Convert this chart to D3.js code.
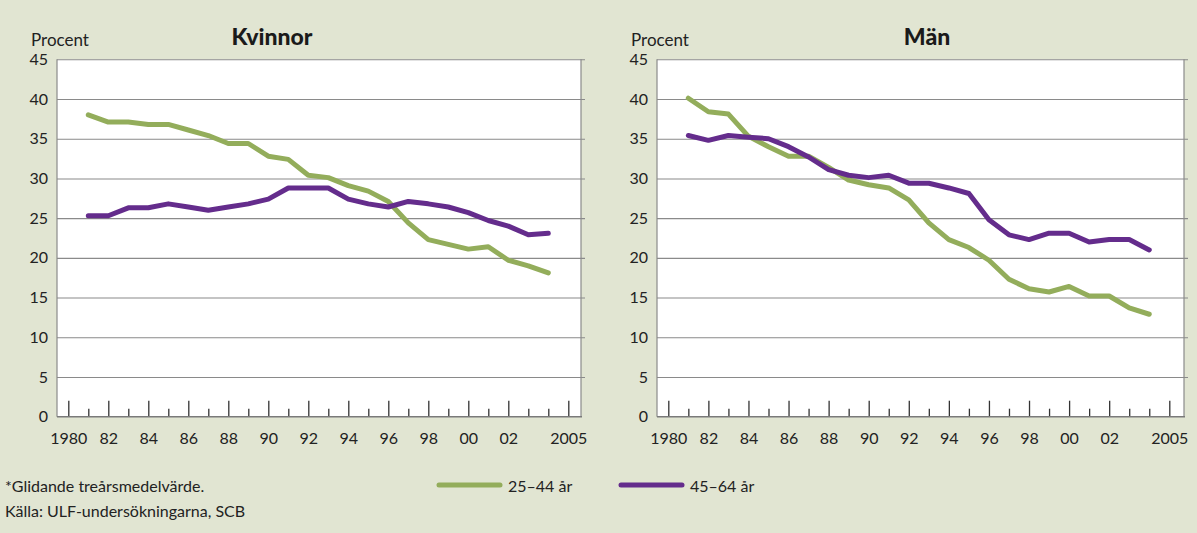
<!DOCTYPE html>
<html><head><meta charset="utf-8">
<script src="https://cdn.jsdelivr.net/npm/d3@7"></script>
<style>
html,body{margin:0;padding:0;background:#e1e5d2;}
svg{display:block;font-family:Lato,"Open Sans",sans-serif;}
</style></head>
<body><svg id="c" width="1197" height="533"></svg>
<script>
const years = d3.range(1981, 2005);
const kvinnor25_44 = [38.0,37.1,37.1,36.8,36.8,36.1,35.4,34.4,34.4,32.8,32.4,30.4,30.1,29.1,28.4,27.1,24.4,22.3,21.7,21.1,21.4,19.7,19.0,18.1];
const kvinnor45_64 = [25.3,25.3,26.3,26.3,26.8,26.4,26.0,26.4,26.8,27.4,28.8,28.8,28.8,27.4,26.8,26.4,27.1,26.8,26.4,25.7,24.7,24.0,22.9,23.1];
const man25_44 = [40.1,38.4,38.1,35.3,34.0,32.8,32.8,31.4,29.8,29.2,28.8,27.3,24.4,22.3,21.3,19.7,17.3,16.1,15.7,16.4,15.2,15.2,13.7,12.9];
const man45_64 = [35.4,34.8,35.4,35.2,35.0,34.0,32.7,31.1,30.4,30.1,30.4,29.4,29.4,28.8,28.1,24.8,22.9,22.3,23.1,23.1,22.0,22.3,22.3,21.0];
const yTicks = [0,5,10,15,20,25,30,35,40,45];
const xTickYears = d3.range(1980, 2006);
const xTickLabels = {1980:"1980",1982:"82",1984:"84",1986:"86",1988:"88",1990:"90",1992:"92",1994:"94",1996:"96",1998:"98",2000:"00",2002:"02",2005:"2005"};
const seriesNames = ["25–44 år","45–64 år"];
const colors = ["#93ad5b","#642c8c"];

const svg = d3.select("#c");
const panels = [
  {title:"Kvinnor", x0:57, x1:581, t1980:68.3, t2005:568.3, titleX:272, data:[kvinnor25_44,kvinnor45_64]},
  {title:"Män", x0:657, x1:1184, t1980:668.3, t2005:1169.3, titleX:927, data:[man25_44,man45_64]}
];
const yTop = 59.3, yBot = 416.7;
const y = d3.scaleLinear().domain([0,45]).range([yBot, yTop]);

panels.forEach(p => {
  const x = d3.scaleLinear().domain([1980,2005]).range([p.t1980, p.t2005]);
  const g = svg.append("g");
  g.append("rect").attr("x",p.x0).attr("y",yTop).attr("width",p.x1-p.x0).attr("height",yBot-yTop).attr("fill","#fff");
  const grid = g.append("g").attr("transform",`translate(${p.x0},0)`)
    .call(d3.axisRight(y).tickValues(yTicks.filter(v=>v>0)).tickSize(p.x1-p.x0+4).tickFormat(""));
  grid.select(".domain").remove();
  grid.selectAll("line").attr("stroke","#8a8a8a").attr("stroke-width",1.1);
  const yl = g.append("g").attr("transform",`translate(${p.x0},0)`)
    .call(d3.axisLeft(y).tickValues(yTicks).tickSize(0).tickPadding(9));
  yl.select(".domain").remove();
  yl.selectAll("text").attr("font-size",16).attr("fill","#222").attr("font-family","Lato, sans-serif");
  g.append("line").attr("x1",p.x0).attr("x2",p.x0).attr("y1",yTop).attr("y2",yBot).attr("stroke","#8a8a8a").attr("stroke-width",1.2);
  g.append("line").attr("x1",p.x1).attr("x2",p.x1).attr("y1",yTop).attr("y2",yBot).attr("stroke","#8a8a8a").attr("stroke-width",1.2);
  const xa = g.append("g").attr("transform",`translate(0,${yBot})`)
    .call(d3.axisBottom(x).tickValues(xTickYears).tickSize(0).tickPadding(16).tickFormat(d => xTickLabels[d] || ""));
  xa.select(".domain").remove();
  xa.selectAll(".tick line").attr("y2", d => xTickLabels[d] ? -16 : -8).attr("stroke","#333").attr("stroke-width",1.3);
  xa.selectAll("text").attr("font-size",16).attr("fill","#222").attr("font-family","Lato, sans-serif");
  g.append("line").attr("x1",p.x0).attr("x2",p.x1+1).attr("y1",yBot).attr("y2",yBot).attr("stroke","#7a7a7a").attr("stroke-width",1.6);
  const line = d3.line().x((d,i)=>x(years[i])).y(d=>y(d));
  p.data.forEach((arr,k)=>{
    g.append("path").datum(arr).attr("d",line).attr("fill","none").attr("stroke",colors[k])
      .attr("stroke-width",5).attr("stroke-linejoin","round").attr("stroke-linecap","round");
  });
  g.append("text").attr("x",p.x0-26).attr("y",46).attr("font-size",17).attr("fill","#222").text("Procent");
  g.append("text").attr("x",p.titleX).attr("y",45).attr("text-anchor","middle").attr("font-size",23).attr("font-weight",900).attr("fill","#1a1a1a").text(p.title);
});

svg.append("text").attr("x",5).attr("y",492).attr("font-size",16).attr("fill","#222").text("*Glidande treårsmedelvärde.");
svg.append("text").attr("x",5).attr("y",517).attr("font-size",16).attr("fill","#222").text("Källa: ULF-undersökningarna, SCB");

const legX = [437, 619];
seriesNames.forEach((n,k)=>{
  svg.append("line").attr("x1",legX[k]+2).attr("x2",legX[k]+63).attr("y1",485).attr("y2",485)
    .attr("stroke",colors[k]).attr("stroke-width",5).attr("stroke-linecap","round");
  svg.append("text").attr("x",legX[k]+71).attr("y",492).attr("font-size",16).attr("fill","#222").text(n);
});
</script></body></html>
